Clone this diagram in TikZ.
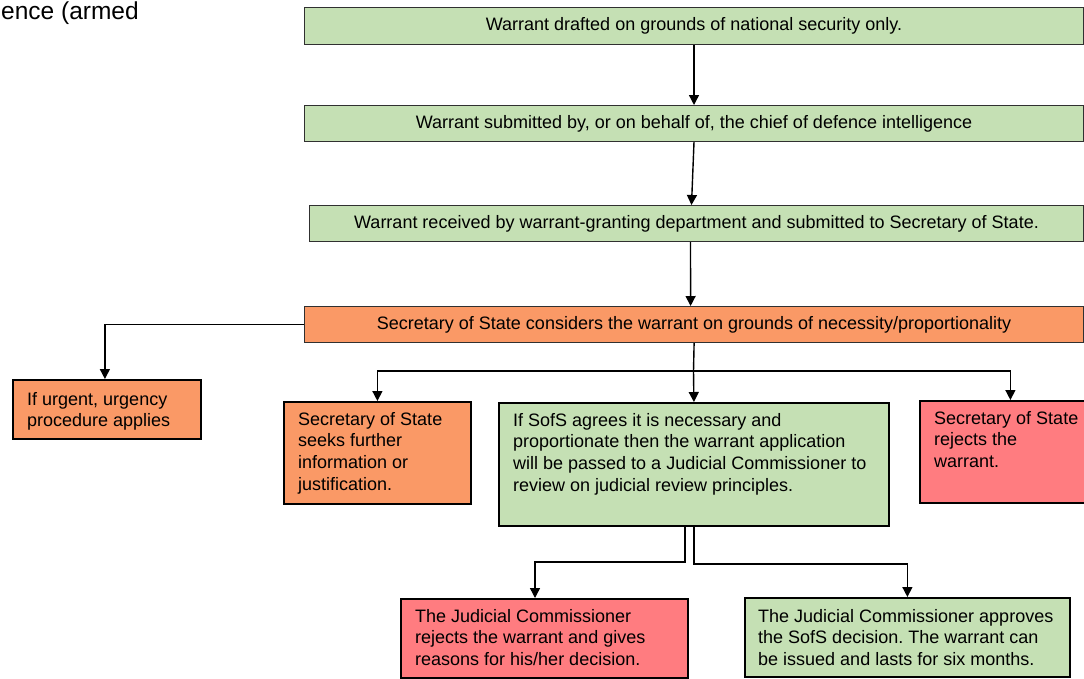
\documentclass[tikz,border=0pt]{standalone}
\usepackage{fontspec}
\setmainfont{Liberation Sans}
\usetikzlibrary{arrows.meta}
\definecolor{boxgreen}{HTML}{C5E0B4}
\definecolor{boxorange}{HTML}{FA9966}
\definecolor{boxred}{HTML}{FF7C80}
\definecolor{edge}{HTML}{303030}
\frenchspacing
\begin{document}
\begin{tikzpicture}[x=1pt,y=-1pt,
  every node/.style={font=\fontsize{18}{21.6}\selectfont},
  wide/.style={draw=edge, line width=1pt, rectangle, anchor=north west, inner sep=0pt},
  card/.style={draw=black, line width=1.8pt, rectangle, anchor=north west, inner sep=0pt},
  txt/.style={anchor=north west, inner sep=0pt, align=left},
  arr/.style={line width=1.4pt, -{Triangle[width=10pt,length=10pt]}},
  link/.style={line width=1.4pt}]
\clip (0,0) rectangle (1084,678);
\fill[white] (0,0) rectangle (1084,678);

% heading fragment at the top left
\node[anchor=base west, inner sep=0pt, font=\fontsize{24.5}{30}\selectfont] (hd) at (1,19) {ence (armed};

% main chain
\node[wide, fill=boxgreen, minimum width=779pt, minimum height=37pt] (b1) at (304,7)
  {Warrant drafted on grounds of national security only.};
\node[wide, fill=boxgreen, minimum width=779pt, minimum height=36pt] (b2) at (304,105)
  {Warrant submitted by, or on behalf of, the chief of defence intelligence};
\node[wide, fill=boxgreen, minimum width=774pt, minimum height=36pt] (b3) at (309,205)
  {Warrant received by warrant-granting department and submitted to Secretary of State.};
\node[wide, fill=boxorange, line width=1.2pt, minimum width=779pt, minimum height=36pt] (b4) at (304,306)
  {Secretary of State considers the warrant on grounds of necessity/proportionality};

% outcome boxes
\node[card, fill=boxorange, minimum width=188pt, minimum height=59pt] (urg) at (12,379) {};
\node[txt] (urgt) at ([xshift=15pt,yshift=-13pt]urg.north west)
  {If urgent, urgency\\procedure applies};

\node[card, fill=boxorange, minimum width=187pt, minimum height=102pt] (seek) at (283,401) {};
\node[txt] (seekt) at ([xshift=15pt,yshift=-11pt]seek.north west)
  {Secretary of State\\seeks further\\information or\\justification.};

\node[card, fill=boxgreen, minimum width=390pt, minimum height=123pt] (mid) at (498,402) {};
\node[txt] (midt) at ([xshift=15pt,yshift=-11pt]mid.north west)
  {If SofS agrees it is necessary and\\proportionate then the warrant application\\will be passed to a Judicial Commissioner to\\review on judicial review principles.};

\node[card, fill=boxred, minimum width=181pt, minimum height=102pt] (srej) at (919,400) {};
\node[txt] (srejt) at ([xshift=15pt,yshift=-11pt]srej.north west)
  {Secretary of State\\rejects the\\warrant.};

\node[card, fill=boxred, minimum width=287pt, minimum height=79pt] (jrej) at (400,598) {};
\node[txt] (jrejt) at ([xshift=15pt,yshift=-11pt]jrej.north west)
  {The Judicial Commissioner\\rejects the warrant and gives\\reasons for his/her decision.};

\node[card, fill=boxgreen, minimum width=325pt, minimum height=79pt] (appr) at (744,597) {};
\node[txt] (apprt) at ([xshift=14pt,yshift=-12pt]appr.north west)
  {The Judicial Commissioner approves\\the SofS decision. The warrant can\\be issued and lasts for six months.};

% connectors down the chain
\draw[arr] (b1.south) -- (b2.north);
\draw[arr] (b2.south) -- ([xshift=-5pt]b3.north);
\draw[arr] ([xshift=-6pt]b3.south) -- ([xshift=-3.5pt]b4.north);
\draw[arr] (b4.west) -| ([xshift=-2pt]urg.north);

% branching below the decision
\coordinate (j1) at (693.5,371);
\draw[link] (b4.south) -- (j1);
\draw[arr] (j1) -| (seek.north);
\draw[arr] (j1) -- (mid.north);
\draw[arr] (j1) -| (srej.north);

% branching below the judicial review
\coordinate (lk) at (535,562);
\draw[arr] ([xshift=-9pt]mid.south) |- (lk) -- (lk |- jrej.north);
\draw[arr] (mid.south) -- ++(0,37) -| (appr.north);
\end{tikzpicture}
\end{document}
